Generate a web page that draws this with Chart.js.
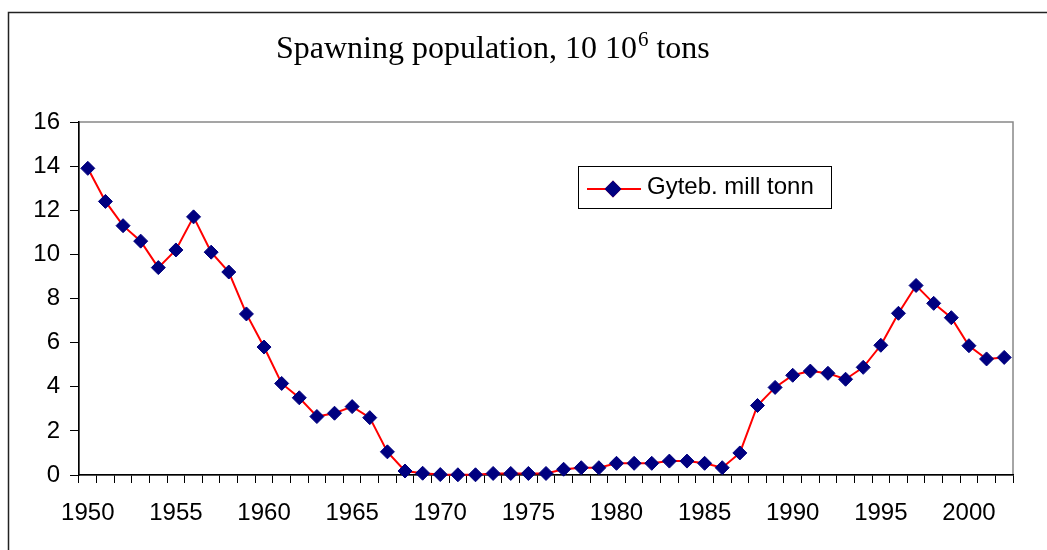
<!DOCTYPE html>
<html>
<head>
<meta charset="utf-8">
<script src="https://cdn.jsdelivr.net/npm/chart.js@4.4.1/dist/chart.umd.min.js"></script>
<style>
  html, body { margin: 0; padding: 0; background: #fff; }
  #wrap { width: 1047px; height: 550px; position: relative; }
</style>
</head>
<body>
<div id="wrap"><canvas id="spawnChart" width="1047" height="550"></canvas></div>
<script>
/* --------------- Data --------------------- */
const years = [];
for (let y = 1950; y <= 2002; y++) years.push(String(y));

const spawning = [
  13.9, 12.4, 11.3, 10.6, 9.4, 10.2, 11.7, 10.1, 9.2, 7.3,
  5.8, 4.15, 3.5, 2.65, 2.8, 3.1, 2.6, 1.05, 0.18, 0.08,
  0.02, 0.01, 0.01, 0.07, 0.07, 0.07, 0.07, 0.26, 0.33, 0.33,
  0.53, 0.53, 0.53, 0.63, 0.63, 0.53, 0.33, 1.0, 3.15, 3.97,
  4.52, 4.71, 4.61, 4.34, 4.88, 5.88, 7.33, 8.59, 7.78, 7.13,
  5.86, 5.26, 5.33
];

const seriesName = "Gyteb. mill tonn";
const yTicks = [0, 2, 4, 6, 8, 10, 12, 14, 16];

/* --------------- Plot area (pixels) --------------------- */
const plotLeft = 79, plotTop = 122, plotRight = 1013, plotBottom = 475;

/* --------------- Frame + title + legend drawn as plugin --------------------- */
const decorPlugin = {
  id: "decor",
  beforeDraw(chart) {
    const ctx = chart.ctx;
    ctx.save();
    ctx.fillStyle = "#fff";
    ctx.fillRect(0, 0, chart.width, chart.height);
    // outer chart border
    ctx.strokeStyle = "#222";
    ctx.lineWidth = 1.5;
    ctx.strokeRect(8.5, 12.5, 1100, 700);
    // gray plot border (top/right)
    const a = chart.chartArea;
    ctx.strokeStyle = "#888";
    ctx.lineWidth = 1.5;
    ctx.strokeRect(a.left, a.top, a.right - a.left, a.bottom - a.top);
    ctx.restore();
  },
  afterDraw(chart) {
    const ctx = chart.ctx;
    ctx.save();
    // title with superscript
    ctx.fillStyle = "#000";
    ctx.textBaseline = "alphabetic";
    ctx.textAlign = "left";
    const big = '32px "Liberation Serif", "Times New Roman", serif';
    const small = '21px "Liberation Serif", "Times New Roman", serif';
    let x = 276;
    const base = 58;
    ctx.font = big;
    const p1 = "Spawning population, 10 10";
    ctx.fillText(p1, x, base);
    x += ctx.measureText(p1).width;
    ctx.font = small;
    ctx.fillText("6", x + 1, base - 12);
    x += ctx.measureText("6").width + 1;
    ctx.font = big;
    ctx.fillText(" tons", x, base);

    // legend box
    const ds = chart.data.datasets[0];
    ctx.fillStyle = "#fff";
    ctx.fillRect(578, 166, 254, 43);
    ctx.strokeStyle = "#000";
    ctx.lineWidth = 1;
    ctx.strokeRect(578.5, 166.5, 253, 42);
    ctx.strokeStyle = ds.borderColor;
    ctx.lineWidth = 2;
    ctx.beginPath();
    ctx.moveTo(587, 189);
    ctx.lineTo(641, 189);
    ctx.stroke();
    Chart.helpers.drawPoint(ctx, {
      pointStyle: "rectRot", radius: ds.pointRadius, borderWidth: 1
    }, 613, 189);
    ctx.fillStyle = ds.pointBackgroundColor;
    ctx.strokeStyle = ds.pointBorderColor;
    ctx.fill();
    ctx.stroke();
    ctx.fillStyle = "#000";
    ctx.font = '24px "Liberation Sans", Arial, sans-serif';
    ctx.textBaseline = "alphabetic";
    ctx.fillText(seriesName, 647, 194);
    ctx.restore();
  }
};

/* --------------- Chart --------------------- */
const spawnChart = new Chart(document.getElementById("spawnChart"), {
  type: "line",
  plugins: [decorPlugin],
  data: {
    labels: years,
    datasets: [{
      label: seriesName,
      data: spawning,
      borderColor: "#ff0000",
      borderWidth: 2,
      tension: 0,
      pointStyle: "rectRot",
      pointRadius: 7,
      pointBackgroundColor: "#000080",
      pointBorderColor: "#000080",
      pointBorderWidth: 1,
      clip: false
    }]
  },
  options: {
    responsive: false,
    animation: false,
    layout: {
      padding: { left: 0, top: plotTop, right: 1047 - plotRight, bottom: 0 }
    },
    plugins: {
      legend: { display: false },
      tooltip: { enabled: false },
      title: { display: false }
    },
    scales: {
      x: {
        type: "category",
        offset: true,
        afterFit(scale) { scale.height = 550 - plotBottom; },
        grid: {
          offset: true,
          drawOnChartArea: false,
          drawTicks: true,
          tickLength: 8,
          tickColor: "#000",
          lineWidth: 1
        },
        border: { color: "#000", width: 1.5 },
        ticks: {
          autoSkip: false,
          maxRotation: 0,
          minRotation: 0,
          padding: 16,
          color: "#000",
          font: { family: '"Liberation Sans", Arial, sans-serif', size: 24 },
          callback(value) {
            const yr = Number(this.getLabelForValue(value));
            return yr % 5 === 0 ? String(yr) : "";
          }
        }
      },
      y: {
        min: 0,
        max: 16,
        afterFit(scale) { scale.width = plotLeft; },
        afterBuildTicks(scale) { scale.ticks = yTicks.map(v => ({ value: v })); },
        grid: {
          drawOnChartArea: false,
          drawTicks: true,
          tickLength: 9,
          tickColor: "#000"
        },
        border: { color: "#000", width: 1.5 },
        ticks: {
          padding: 10,
          color: "#000",
          font: { family: '"Liberation Sans", Arial, sans-serif', size: 24 }
        }
      }
    }
  }
});
</script>
</body>
</html>
